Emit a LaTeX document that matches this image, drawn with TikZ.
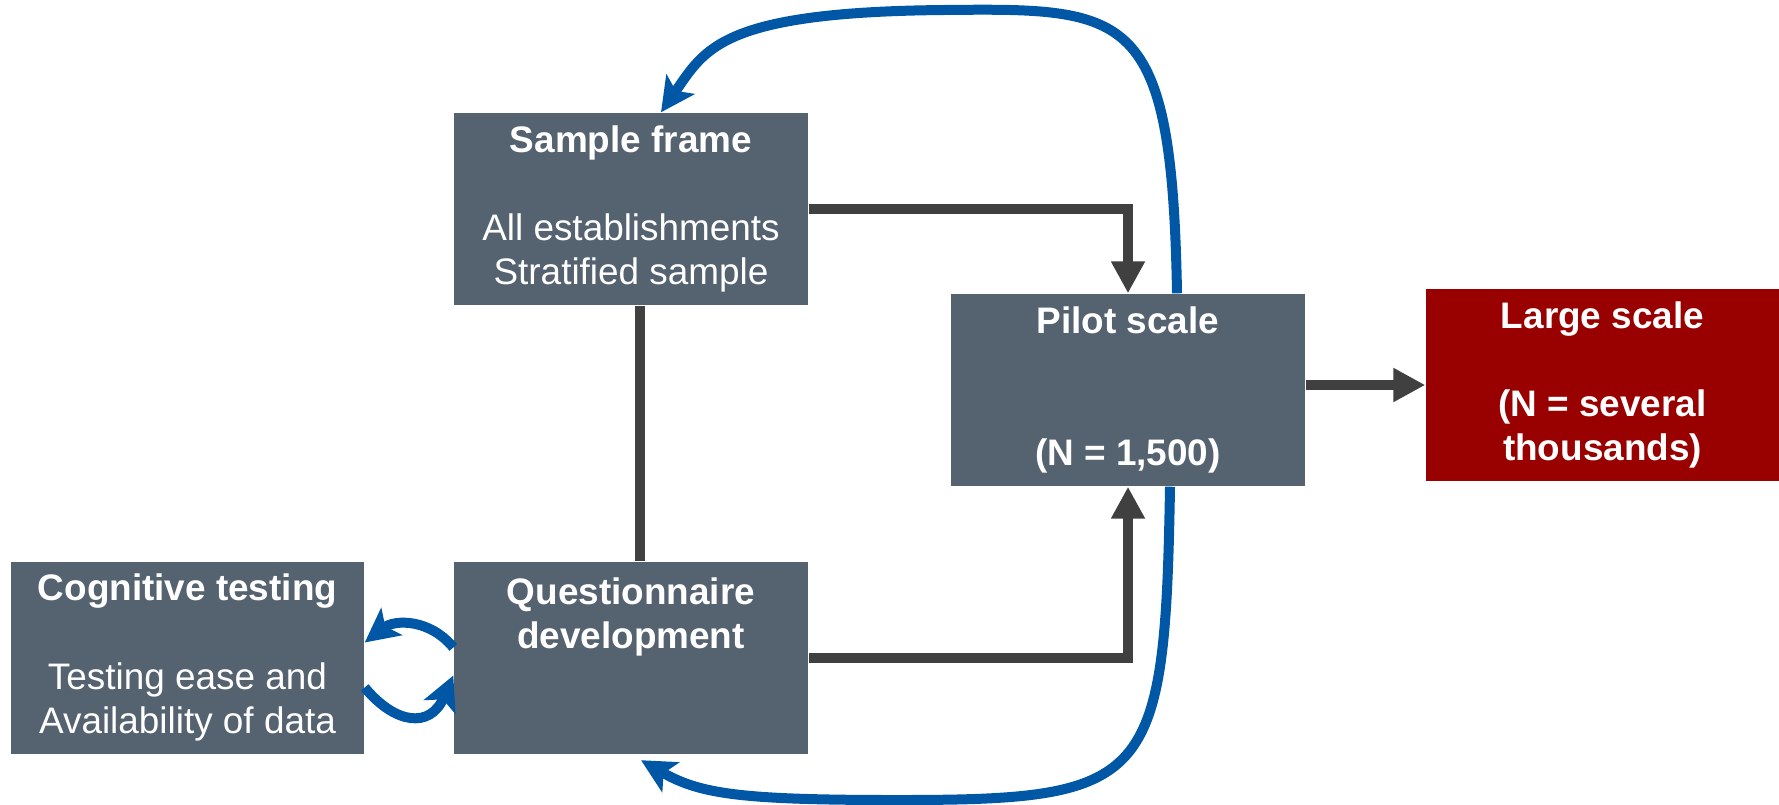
\documentclass[tikz,border=0pt]{standalone}
\usepackage{fontspec}
\setmainfont{Liberation Sans}
\usetikzlibrary{arrows.meta}
\definecolor{slate}{HTML}{556270}
\definecolor{darkred}{HTML}{990000}
\definecolor{flowgray}{HTML}{404040}
\definecolor{loopblue}{HTML}{0057A6}

\begin{document}
\begin{tikzpicture}[
    box/.style={rectangle, fill=slate, text=white, minimum width=3.54cm, minimum height=1.92cm,
                inner sep=0pt, align=center, font=\fontsize{10.5}{12.6}\selectfont},
    flowline/.style={draw=flowgray, line width=1mm, -{Triangle[length=3.2mm,width=3.2mm]}},
    feedback/.style={draw=loopblue, line width=1mm, -{Stealth[length=3.4mm,width=3.4mm,inset=0.8mm]}}]
  \useasboundingbox (0,0) rectangle (17.79,8.04);

  % boxes
  \node[box] (sample) at (6.31,5.95) {\textbf{Sample frame}\\ ~\\All establishments\\Stratified sample};
  \node[box] (pilot) at (11.28,4.14) {\textbf{Pilot scale}\\ ~\\ ~\\\textbf{(N = 1,500)}};
  \node[box, fill=darkred, minimum width=3.53cm] (large) at (16.025,4.19)
    {\textbf{Large scale}\\ ~\\\textbf{(N = several}\\\textbf{thousands)}};
  \node[box, minimum width=3.53cm] (cog) at (1.875,1.465)
    {\textbf{Cognitive testing}\\ ~\\Testing ease and\\Availability of data};
  \node[box] (quest) at (6.31,1.465) {\textbf{Questionnaire}\\\textbf{development}\\ ~\\ ~};

  % main flow
  \draw[flowline] (sample.east) -| (pilot.north);
  \draw[flowgray, line width=1mm] ([xshift=0.9mm]sample.south) -- ([xshift=0.9mm]quest.north);
  \draw[flowline] (quest.east) -| (pilot.south);
  \draw[flowline] (pilot.east |- large.west) -- (large.west);

  % feedback loops
  \draw[feedback] ([xshift=4.9mm]pilot.north) .. controls (11.72,7.95) and (11.3,7.96) .. (9.44,7.94)
    .. controls (7.2,7.92) and (7.05,7.55) .. ([xshift=3mm]sample.north);
  \draw[feedback] ([xshift=4.2mm]pilot.south) .. controls (11.65,0.2) and (11.5,0.04) .. (8.97,0.04)
    .. controls (7.4,0.04) and (7.0,0.1) .. ([xshift=1mm,yshift=-0.6mm]quest.south);
  \draw[feedback] ([yshift=1mm]quest.west) .. controls (4.3,1.85) and (3.95,1.85) .. ([yshift=1.5mm]cog.east);
  \draw[feedback] ([yshift=-3mm]cog.east) .. controls (3.95,0.8) and (4.3,0.75) .. ([yshift=-1.8mm]quest.west);
\end{tikzpicture}
\end{document}
